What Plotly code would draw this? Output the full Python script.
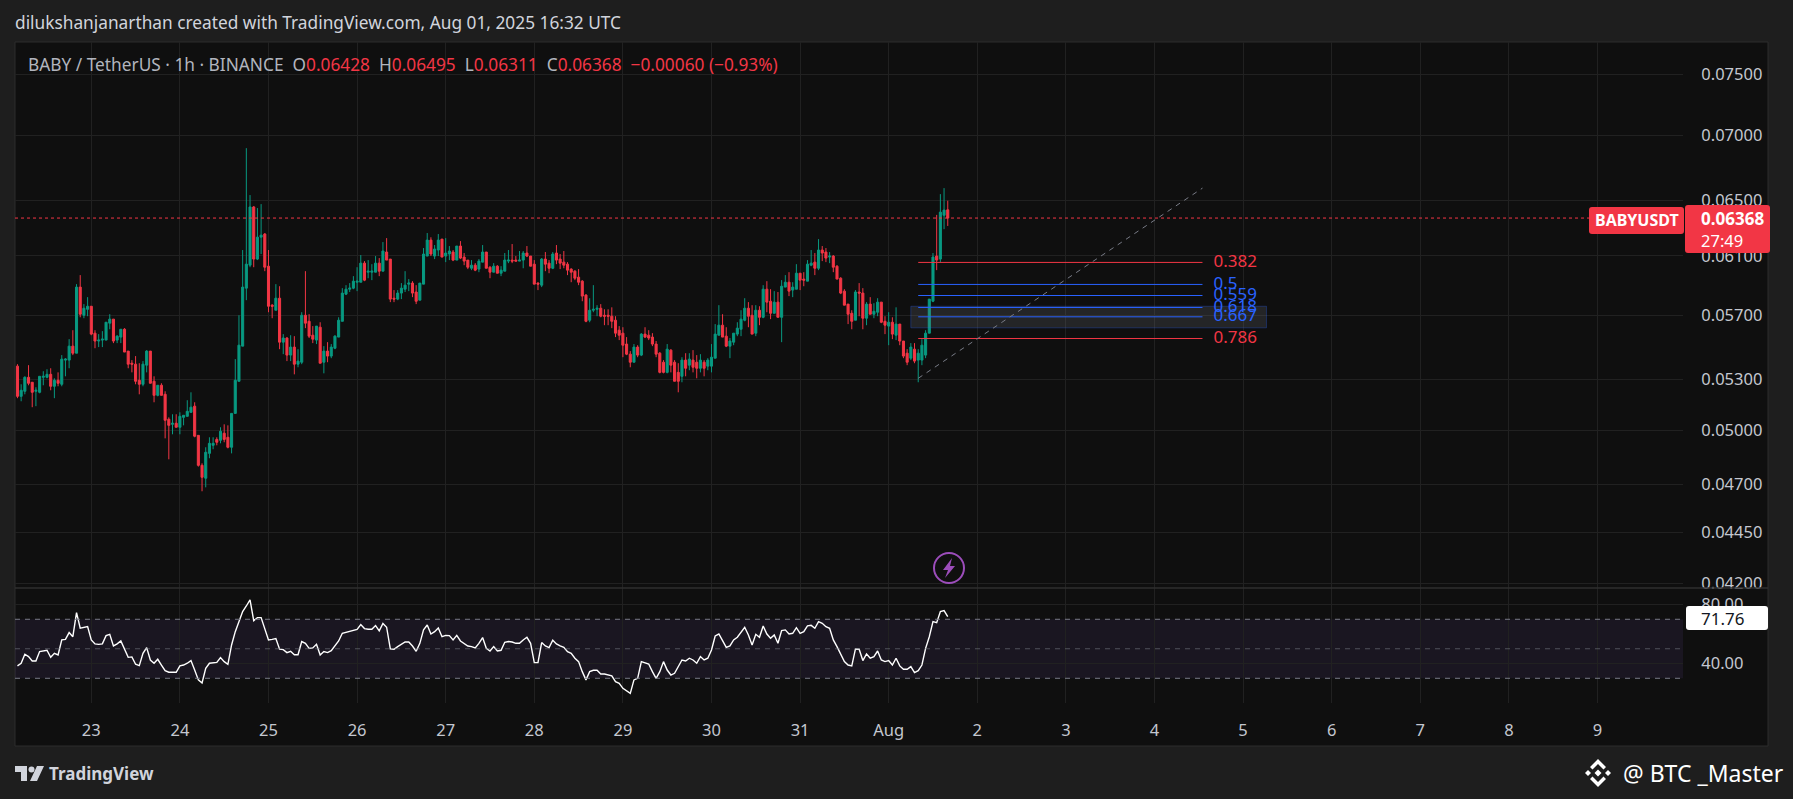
import pandas as pd
import plotly.graph_objects as go

opens = [.05379,.05197,.05227,.05311,.05281,.05227,.05221,.05311,.05311,.05329,.05257,.05293,.05269,.05416,.05416,.05503,.05459,.05886,.057,.05739,
.05759,.05585,.05535,.05541,.05541,.05649,.05675,.05541,.0556,.0561,.05472,.05397,.05391,.05293,.05269,.05385,.05472,.05287,.05203,.05263,
.05209,.05063,.05034,.0504,.05017,.05074,.0508,.05103,.05139,.04971,.04804,.04734,.0487,.04915,.04948,.04943,.04983,.0496,.04904,.05097,
.05287,.05503,.05879,.06035,.06449,.06077,.06231,.06253,.06028,.05766,.05733,.05812,.05528,.05554,.05447,.05497,.05391,.05403,.057,.05661,
.05572,.05541,.05623,.05403,.05472,.05441,.0549,.0556,.05661,.05839,.05872,.05879,.05919,.05919,.06049,.05987,.05987,.05987,.06049,.05994,
.06126,.06077,.05812,.05806,.05846,.05872,.05906,.05913,.05853,.05799,.05906,.06098,.0621,.06098,.0614,.06217,.06098,.06112,.06126,.0607,
.06168,.06091,.0607,.06014,.06035,.06008,.06056,.06126,.06021,.05987,.06028,.0598,.05994,.06063,.0607,.0607,.06063,.0607,.06119,.06098,
.06042,.05913,.05899,.06077,.06049,.06014,.06119,.06077,.06056,.06042,.06008,.05994,.05953,.05926,.05833,.05668,.05733,.05739,.05746,.057,
.057,.05694,.05668,.05604,.05585,.05516,.05453,.05403,.05497,.05447,.05579,.05572,.0556,.05516,.05459,.05403,.05341,.05478,.05403,.05341,
.05317,.05416,.05385,.05416,.05403,.05366,.05403,.05379,.05379,.05428,.05572,.05636,.05566,.05503,.05528,.05579,.0561,.05668,.05746,.057,
.05585,.05733,.05687,.05872,.05792,.05713,.05786,.05687,.05886,.05919,.05866,.05872,.0598,.0594,.05926,.06035,.06056,.06014,.0614,.06126,
.06091,.06098,.06028,.05946,.05859,.05773,.05713,.05668,.05853,.05846,.05681,.05773,.05707,.0572,.05786,.05661,.0563,.05655,.05572,.05643,
.05535,.05459,.05428,.05484,.05416,.05416,.05447,.05585,.05792,.06098,.06077,.06388,.06428]
highs = [.05391,.05269,.05317,.05385,.05281,.05251,.05317,.05348,.0536,.05366,.05305,.05341,.05447,.05428,.05547,.05604,.05906,.05967,.05773,.05819,
.05759,.05604,.05579,.05598,.05655,.05707,.05675,.05572,.0561,.05617,.05472,.05416,.05441,.05397,.0541,.05478,.05472,.05317,.05263,.05275,
.05227,.05074,.05092,.05092,.05103,.05086,.05174,.05221,.05162,.04971,.04815,.04904,.0496,.0496,.0496,.05017,.05034,.05028,.05097,.05422,
.057,.0614,.06896,.06537,.06456,.06441,.0647,.0626,.0614,.05773,.05906,.05892,.05579,.0556,.05572,.05566,.05484,.0572,.05994,.05707,
.0563,.0563,.05655,.05503,.05528,.05516,.05572,.05687,.05879,.05899,.05913,.0596,.06021,.06105,.06063,.0607,.06042,.06098,.06084,.06196,
.06224,.06077,.05866,.05866,.05913,.05994,.0594,.05926,.05899,.05913,.06154,.0626,.0623,.06175,.06253,.06217,.06224,.06168,.0614,.06168,
.06203,.06119,.0607,.0607,.06049,.06077,.06175,.06126,.06028,.06049,.06035,.06028,.06119,.0614,.06182,.06098,.06133,.06133,.06168,.06098,
.0607,.05919,.06084,.06126,.0607,.06126,.06175,.06112,.06133,.06056,.06014,.06001,.06008,.05933,.05839,.05812,.05899,.05766,.05773,.05739,
.05739,.05752,.05694,.0563,.05623,.0556,.05472,.05516,.05509,.05585,.05623,.05604,.05585,.05535,.05466,.05416,.05516,.05484,.05416,.05397,
.05434,.05459,.05459,.05478,.05447,.05453,.05416,.05428,.05516,.05643,.05766,.05707,.05623,.05554,.05585,.05655,.05733,.05812,.05786,.05766,
.05766,.05759,.05899,.05926,.05872,.05859,.05853,.05933,.05967,.05987,.05919,.06042,.0598,.05987,.0607,.0614,.06119,.06217,.06168,.06154,
.06126,.06105,.06035,.05953,.05872,.05773,.05733,.05866,.05913,.05879,.05786,.05819,.05779,.05812,.05786,.05694,.0572,.05687,.05752,.05643,
.05535,.05484,.05522,.05522,.05484,.05547,.05604,.05806,.06119,.06391,.06544,.06589,.06495]
lows = [.05186,.05168,.05209,.05263,.05133,.05139,.05215,.05263,.05305,.05233,.05186,.05257,.05257,.05317,.05366,.05447,.05459,.05687,.05681,.05694,
.05572,.0549,.05497,.05497,.05541,.0561,.05522,.05522,.05522,.05466,.05366,.05341,.05269,.05209,.05257,.05341,.05275,.05162,.05197,.05203,
.04954,.04837,.04977,.05017,.04977,.05028,.0508,.05103,.0496,.04797,.04664,.04685,.04843,.04893,.04915,.04926,.04932,.04898,.0487,.05097,
.05287,.05503,.05799,.06021,.06021,.0607,.06112,.05994,.0572,.05681,.05733,.05484,.05453,.0541,.0541,.05329,.05372,.05391,.05617,.05554,
.05522,.05516,.05397,.05335,.05403,.05428,.05484,.0556,.05661,.05833,.05853,.05872,.05859,.05919,.05926,.05946,.05933,.05987,.0596,.05994,
.0607,.05786,.05786,.05799,.05806,.05853,.05859,.05819,.05773,.05799,.05906,.06098,.06098,.06077,.06098,.06091,.06056,.0607,.06063,.0607,
.06077,.06035,.06008,.06001,.05994,.05987,.06056,.06014,.05946,.05987,.0598,.0596,.05994,.06049,.06049,.06063,.06063,.06014,.06091,.06028,
.05906,.05866,.05886,.05994,.0598,.06008,.06042,.06008,.06014,.05967,.05919,.05933,.05899,.05792,.05655,.05655,.0572,.05694,.05687,.05636,
.05636,.05617,.0556,.05541,.05434,.05447,.05372,.05403,.05434,.05441,.05554,.05541,.05503,.05434,.05335,.05335,.05335,.05341,.05287,.05221,
.05281,.05317,.05354,.05341,.05305,.05341,.05317,.05354,.05341,.05428,.05572,.0556,.05497,.05428,.05509,.05566,.05566,.05661,.05623,.05579,
.05566,.05636,.05681,.0572,.05675,.05713,.05687,.05528,.05886,.05826,.05819,.05872,.05866,.05892,.05926,.06028,.05967,.06001,.06063,.06056,
.06049,.05987,.0594,.05839,.05766,.05643,.0561,.05668,.05694,.0561,.05636,.05707,.05681,.05694,.05649,.05579,.05509,.05547,.05541,.05509,
.05428,.05385,.05416,.05397,.05281,.05385,.05428,.05585,.05786,.06001,.06056,.06288,.06311]
closes = [.05197,.05233,.05311,.05275,.05221,.05233,.05317,.05317,.05329,.05257,.05293,.05275,.05422,.05422,.05503,.05459,.05886,.05707,.05746,.05759,
.05579,.05535,.05541,.05547,.05655,.05675,.05535,.05566,.0561,.05466,.05391,.05391,.05287,.05269,.05391,.05472,.05275,.05203,.05263,.05203,
.05057,.05028,.0504,.05017,.0508,.05086,.05109,.05133,.04966,.04804,.04739,.04876,.04926,.04926,.04932,.04994,.04948,.04904,.05097,.05293,
.05509,.05886,.06042,.06449,.06077,.06231,.06245,.06021,.05759,.05759,.05812,.05528,.05554,.05447,.05497,.05391,.0541,.057,.05649,.05566,
.05547,.0563,.05397,.05472,.05441,.05497,.05566,.05668,.05846,.05872,.05879,.05926,.05926,.06049,.05933,.05994,.05994,.06049,.05994,.06133,
.0607,.05806,.05806,.05846,.05879,.05899,.05913,.05846,.05792,.05913,.06112,.0621,.06112,.06147,.0621,.06091,.06119,.06133,.0607,.06168,
.06084,.06063,.06021,.06035,.06001,.06063,.06126,.06014,.05987,.06028,.0598,.06001,.0607,.0607,.06063,.06063,.0607,.06119,.06098,.06028,
.05906,.05906,.06077,.06042,.06014,.06112,.0607,.06049,.06035,.06001,.05987,.05946,.05919,.05826,.05661,.05733,.05739,.05746,.05694,.05694,
.05694,.05661,.05585,.05572,.05509,.05453,.05403,.05497,.05447,.05579,.0556,.05554,.05516,.05453,.05341,.05341,.05484,.05385,.05287,.05287,
.05416,.05366,.05422,.05372,.05366,.05416,.05366,.05416,.05434,.05579,.05636,.0556,.05503,.05535,.05585,.05617,.05675,.05746,.05694,.05579,
.05733,.05687,.05872,.05786,.05713,.05786,.05687,.05892,.05919,.05859,.05886,.0598,.05933,.05933,.06042,.06049,.06014,.0614,.06119,.06084,
.06098,.06021,.0594,.05846,.05766,.05707,.05661,.05853,.05846,.05681,.05773,.05707,.05726,.05786,.05655,.05636,.05655,.05579,.05643,.05535,
.05441,.05403,.05497,.0541,.05459,.05509,.05585,.05806,.06091,.0607,.06411,.06426,.06368]
rsi = [38.4,40.2,46.3,44.7,41.7,41.7,48.1,48.5,49.0,44.2,46.9,45.8,56.0,56.4,61.0,58.2,74.5,63.9,64.6,65.0,56.0,53.3,53.0,53.3,58.9,59.8,51.9,53.3,55.3,49.2,
44.2,44.5,39.5,38.6,46.9,50.8,42.4,40.2,42.9,39.0,35.2,34.1,34.1,34.1,38.4,39.0,40.2,42.0,35.6,28.9,26.8,36.8,40.2,40.6,40.8,44.0,41.3,39.5,52.6,61.6,
68.4,75.2,79.0,83.1,69.1,71.1,71.1,62.8,56.0,56.4,56.9,49.7,49.4,47.4,48.3,46.0,46.0,54.9,53.7,50.3,50.6,53.0,45.8,48.1,47.4,48.7,51.9,55.3,60.5,61.2,
61.6,62.8,63.2,66.4,63.7,63.2,63.2,65.7,62.1,67.1,64.6,49.9,49.7,51.5,53.3,54.6,54.6,51.9,48.3,53.7,62.8,66.1,60.0,61.6,64.1,58.2,59.1,58.9,56.0,59.1,
55.3,53.7,51.9,51.5,50.6,53.7,57.6,50.3,48.5,51.5,48.5,49.0,54.4,54.9,54.6,53.7,53.7,56.0,57.8,53.7,40.6,40.6,54.2,51.9,50.8,55.8,53.3,51.9,51.0,48.1,
46.9,43.6,41.3,34.5,28.9,34.5,35.4,35.4,32.9,32.9,32.2,31.6,27.7,26.6,23.2,21.6,19.8,28.9,30.0,41.3,40.6,39.7,34.5,30.0,34.5,41.3,35.6,32.2,33.4,37.9,
42.4,41.7,43.6,42.4,40.2,44.7,42.4,43.6,49.2,58.7,60.0,55.5,51.0,51.9,56.0,57.8,61.6,64.6,59.4,52.6,59.8,57.8,65.5,60.0,57.1,59.4,53.7,62.3,62.8,60.0,
60.5,64.3,60.5,61.6,65.5,65.9,63.9,68.4,67.3,65.0,63.9,56.0,51.5,46.9,41.3,39.0,38.4,49.9,49.7,42.0,46.5,43.6,44.7,48.5,42.4,41.3,42.0,39.0,43.6,38.4,
36.1,36.1,37.9,33.8,35.2,39.0,50.3,58.2,68.4,67.7,75.2,75.9,71.76]

price_ticks = [0.075, 0.07, 0.065, 0.061, 0.057, 0.053, 0.05, 0.047, 0.0445, 0.042]
price_labels = ["0.07500", "0.07000", "0.06500", "0.06100", "0.05700", "0.05300", "0.05000", "0.04700", "0.04450", "0.04200"]
rsi_ticks = [80, 40]
rsi_labels = ["80.00", "40.00"]
day_ticks = pd.date_range("2025-07-23", "2025-08-09", freq="D")
day_labels = ["23", "24", "25", "26", "27", "28", "29", "30", "31", "Aug", "2", "3", "4", "5", "6", "7", "8", "9"]

fib_names = ["0.382", "0.5", "0.559", "0.618", "0.667", "0.786"]
fib_prices = [0.06054, 0.05904, 0.05830, 0.05751, 0.05690, 0.05551]
fib_colors = ["#f23645", "#2962ff", "#2962ff", "#2962ff", "#2962ff", "#f23645"]
fib_start, fib_end = "2025-08-01 08:00", "2025-08-04 13:00"
zone_x = ["2025-08-01 06:00", "2025-08-05 06:20"]
zone_prices = [0.05619, 0.05759]
trend_x = ["2025-08-01 08:00", "2025-08-04 13:00"]
trend_prices = [0.05305, 0.06589]
last_price = 0.06368
xrange = ["2025-07-22 03:20", "2025-08-09 23:10"]

RED, GREEN = "#f23645", "#089981"
W, H = 1793, 799
FONT = "Noto Sans"
fx = lambda p: p / W
fy = lambda p: 1 - p / H

dates = pd.date_range("2025-07-22 04:00", periods=len(closes), freq="h")
rsi_dates = pd.date_range(end=dates[-1], periods=len(rsi), freq="h")

fig = go.Figure()
NOHOV = dict(hoverinfo="skip", showlegend=False)
fig.add_trace(go.Scatter(x=xrange, y=[last_price, last_price], mode="lines",
                         line=dict(color=RED, width=1, dash="dot"), **NOHOV))
fig.add_trace(go.Scatter(x=[zone_x[0], zone_x[1], zone_x[1], zone_x[0], zone_x[0]],
                         y=[zone_prices[0], zone_prices[0], zone_prices[1], zone_prices[1], zone_prices[0]],
                         mode="lines", fill="toself", fillcolor="rgba(120,123,134,0.2)",
                         line=dict(color="rgba(41,98,255,0.3)", width=1), **NOHOV))
fig.add_trace(go.Candlestick(x=dates, open=opens, high=highs, low=lows, close=closes, whiskerwidth=0,
                             increasing=dict(line=dict(color=GREEN, width=1), fillcolor=GREEN),
                             decreasing=dict(line=dict(color=RED, width=1), fillcolor=RED),
                             hoverinfo="skip", showlegend=False))
for name, price, color in zip(fib_names, fib_prices, fib_colors):
    fig.add_trace(go.Scatter(x=[fib_start, fib_end], y=[price, price], mode="lines",
                             line=dict(color=color, width=1), **NOHOV))
    fig.add_trace(go.Scatter(x=["2025-08-04 16:00"], y=[price], mode="text", text=[name],
                             textposition="middle right", textfont=dict(color=color, size=17, family=FONT), **NOHOV))
fig.add_trace(go.Scatter(x=trend_x, y=trend_prices, mode="lines",
                         line=dict(color="#787b86", width=1, dash="5px,5px"), **NOHOV))
fig.add_trace(go.Scatter(x=rsi_dates, y=rsi, mode="lines", yaxis="y2",
                         line=dict(color="#ffffff", width=1.4), **NOHOV))

shapes = [
    dict(type="rect", xref="paper", yref="paper", x0=fx(15), x1=fx(1768), y0=fy(746), y1=fy(42), layer="below",
         fillcolor="#0f0f0f", line=dict(color="#2c2c2c", width=1)),
    dict(type="line", xref="paper", yref="paper", x0=fx(15), x1=fx(1768), y0=fy(588), y1=fy(588), layer="above",
         line=dict(color="#2f2f2f", width=1.5)),
    dict(type="rect", xref="x domain", yref="y2", x0=0, x1=1, y0=30, y1=70, layer="below",
         fillcolor="rgba(126,87,194,0.1)", line=dict(width=0)),
]
for level in (70, 50, 30):
    shapes.append(dict(type="line", xref="x domain", yref="y2", x0=0, x1=1, y0=level, y1=level, layer="above",
                       line=dict(color="#787b86" if level != 50 else "rgba(120,123,134,0.6)", width=1, dash="5px,5px")))


def box(x0, x1, y0, y1, color):
    r = 3
    path = (f"M{fx(x0+r)},{fy(y0)} L{fx(x1-r)},{fy(y0)} Q{fx(x1)},{fy(y0)} {fx(x1)},{fy(y0+r)} "
            f"L{fx(x1)},{fy(y1-r)} Q{fx(x1)},{fy(y1)} {fx(x1-r)},{fy(y1)} L{fx(x0+r)},{fy(y1)} "
            f"Q{fx(x0)},{fy(y1)} {fx(x0)},{fy(y1-r)} L{fx(x0)},{fy(y0+r)} Q{fx(x0)},{fy(y0)} {fx(x0+r)},{fy(y0)} Z")
    return dict(type="path", xref="paper", yref="paper", path=path, fillcolor=color, line=dict(width=0), layer="above")


def poly(points):
    d = "M" + " L".join(f"{fx(a)},{fy(b)}" for a, b in points) + " Z"
    return d


shapes += [box(1589, 1684, 207, 234, RED), box(1685, 1770, 205, 253, RED), box(1686, 1768, 606, 630, "#ffffff")]
PURPLE = "#9c4dbb"
shapes.append(dict(type="circle", xref="paper", yref="paper", x0=fx(934), x1=fx(964), y0=fy(583), y1=fy(553),
                   line=dict(color=PURPLE, width=2), layer="above"))
shapes.append(dict(type="path", xref="paper", yref="paper",
                   path=poly([(952, 558), (943, 570), (948, 570), (945, 578), (955, 566), (950, 566)]),
                   fillcolor=PURPLE, line=dict(width=0)))
LOGO = "#d1d4dc"
shapes.append(dict(type="path", xref="paper", yref="paper",
                   path=poly([(15, 766), (27, 766), (27, 781), (21, 781), (21, 772), (15, 772)]) + " "
                   + poly([(44, 766), (37, 781), (30, 781), (37, 766)]),
                   fillcolor=LOGO, line=dict(width=0)))
shapes.append(dict(type="circle", xref="paper", yref="paper", x0=fx(28.5), x1=fx(34.5), y0=fy(772.5), y1=fy(766.5),
                   fillcolor=LOGO, line=dict(width=0)))
for cx, cy, r in [(1598, 773, 3.5), (1588, 773, 3), (1608, 773, 3)]:
    shapes.append(dict(type="path", xref="paper", yref="paper",
                       path=poly([(cx, cy - r), (cx + r, cy), (cx, cy + r), (cx - r, cy)]),
                       fillcolor="#ffffff", line=dict(width=0)))
for s in (1, -1):
    shapes.append(dict(type="path", xref="paper", yref="paper",
                       path=poly([(1598, 773 - 14 * s), (1606, 773 - 6 * s), (1603.5, 773 - 3.5 * s), (1598, 773 - 9 * s),
                                  (1592.5, 773 - 3.5 * s), (1590, 773 - 6 * s)]),
                       fillcolor="#ffffff", line=dict(width=0)))


def note(x, y, text, size=17.3, color="#d1d4dc", anchor="left", family=FONT):
    return dict(xref="paper", yref="paper", x=fx(x), y=fy(y), text=text, showarrow=False, xanchor=anchor, yanchor="middle",
                font=dict(size=size, color=color, family=family), align=anchor)


def red(s):
    return f"<span style='color:{RED}'>{s}</span>"


legend = ("BABY / TetherUS · 1h · BINANCE  O" + red("0.06428") + "  H" + red("0.06495") + "  L" + red("0.06311")
          + "  C" + red("0.06368") + "  " + red("−0.00060 (−0.93%)"))
annotations = [
    note(13, 23, "dilukshanjanarthan created with TradingView.com, Aug 01, 2025 16:32 UTC", color="#d1d4dc"),
    note(26, 64, legend, color="#b2b5be"),
    note(1636.5, 220.5, "<b>BABYUSDT</b>", size=16, color="#ffffff", anchor="center"),
    note(1699, 219, "<b>0.06368</b>", size=17, color="#ffffff"),
    note(1699, 240, "27:49", size=16.5, color="#ffffff"),
    note(1699, 618, "71.76", size=17, color="#131722"),
    note(47, 773, "<b>TradingView</b>", size=17, color="#d1d4dc"),
    note(1621, 773, "@ BTC _Master", size=23, color="#ffffff"),
]

GRID = "#212121"
TICK = dict(family=FONT, size=16.5, color="#c4c7cf")
fig.update_layout(
    width=W, height=H, margin=dict(l=0, r=0, t=0, b=0), autosize=False,
    paper_bgcolor="#1e1e1e", plot_bgcolor="rgba(0,0,0,0)", boxgap=0.2,
    shapes=shapes, annotations=annotations, showlegend=False, dragmode=False,
    xaxis=dict(type="date", domain=[fx(15), fx(1683)], range=xrange, anchor="y2", rangeslider=dict(visible=False), automargin=False,
               tickmode="array", tickvals=list(day_ticks), ticktext=day_labels, showgrid=True, gridcolor=GRID, gridwidth=1,
               ticks="outside", ticklen=12, tickcolor="rgba(0,0,0,0)", tickfont=TICK, zeroline=False, showline=False),
    yaxis=dict(type="log", domain=[fy(588), fy(42)], range=[-1.37912, -1.10885], side="right", anchor="x", automargin=False,
               tickmode="array", tickvals=price_ticks, ticktext=price_labels, showgrid=True, gridcolor=GRID, gridwidth=1,
               ticks="outside", ticklen=14, tickcolor="rgba(0,0,0,0)", tickfont=TICK, zeroline=False, showline=False),
    yaxis2=dict(domain=[fy(703), fy(588)], range=[13.25, 91.2], side="right", anchor="x", automargin=False,
                tickmode="array", tickvals=rsi_ticks, ticktext=rsi_labels, showgrid=True, gridcolor=GRID, gridwidth=1,
                ticks="outside", ticklen=14, tickcolor="rgba(0,0,0,0)", tickfont=TICK, zeroline=False, showline=False),
)

fig.write_html("out.html", default_width="1793px", default_height="799px",
               post_script=("document.body.style.margin='0';document.body.style.height='799px';"
                            "document.body.style.overflow='hidden';document.documentElement.style.overflow='hidden';"
                            "document.documentElement.style.height='799px';"),
               config=dict(displayModeBar=False))
